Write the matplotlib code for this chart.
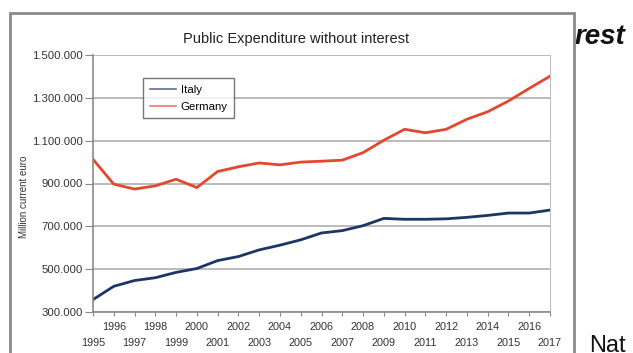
import matplotlib.pyplot as plt
from matplotlib.patches import Rectangle
from matplotlib.ticker import FuncFormatter, FixedLocator

years = list(range(1995, 2018))
italy = [358000, 420000, 447000, 460000, 485000, 503000, 540000, 559000,
         590000, 612000, 637000, 669000, 680000, 703000, 737000, 733000,
         733000, 735000, 742000, 751000, 762000, 762000, 776000]
germany = [1013000, 897000, 874000, 889000, 920000, 881000, 956000, 978000,
           996000, 987000, 1000000, 1004000, 1009000, 1044000, 1102000, 1153000,
           1137000, 1153000, 1200000, 1235000, 1285000, 1344000, 1401000]

W, H = 633, 353
plt.rcParams['font.family'] = ['Liberation Sans', 'DejaVu Sans']
fig = plt.figure(figsize=(W / 100, H / 100), dpi=100)

# slide text partly hidden behind the chart box
fig.text(575 / W, 1 - 37 / H, "rest", fontsize=20, fontweight="bold",
         fontstyle="italic", va="center", ha="left", color="#111111")
fig.text(589 / W, 1 - 335 / H, "Nat", fontsize=17, va="top", ha="left",
         color="#111111")

# chart frame
fig.patches.append(Rectangle((10 / W, -0.05), (574 - 10) / W, 1 - 13 / H + 0.05,
                             transform=fig.transFigure, facecolor="white",
                             edgecolor="#8a8a8a", linewidth=2, zorder=4))
fig.text(296 / W, 1 - 39 / H, "Public Expenditure without interest",
         fontsize=10.5, ha="center", va="center", color="#222222", zorder=6)

ax = fig.add_axes([93 / W, 1 - 312 / H, (550 - 93) / W, (312 - 55) / H])
ax.set_zorder(5)
ax.patch.set_alpha(0)

ax.plot(years, italy, color="#1c3566", linewidth=2, label="Italy")
ax.plot(years, germany, color="#e2472f", linewidth=2, label="Germany")

ax.set_xlim(1995, 2017)
ax.set_ylim(300000, 1500000)
ax.set_yticks(range(300000, 1500001, 200000))
ax.yaxis.set_major_formatter(FuncFormatter(lambda v, p: f"{int(v):,}".replace(",", ".")))
ax.grid(axis="y", color="#b5b5b5", linewidth=1.3)
ax.set_axisbelow(True)

# even years on the upper row, odd years on the lower row
even = [y for y in years if y % 2 == 0]
odd = [y for y in years if y % 2 == 1]
ax.xaxis.set_major_locator(FixedLocator(even))
ax.xaxis.set_minor_locator(FixedLocator(odd))
ax.set_xticklabels([str(y) for y in even])
ax.set_xticklabels([str(y) for y in odd], minor=True)
ax.tick_params(axis="x", which="both", length=3, width=0.8, color="#888888",
               labelsize=7.8, labelcolor="#333333")
ax.tick_params(axis="x", which="major", pad=4)
ax.tick_params(axis="x", which="minor", pad=16)
ax.tick_params(axis="y", length=6, width=0.8, color="#888888", labelsize=8.2,
               pad=1.5, labelcolor="#333333")

for s in ["left", "bottom"]:
    ax.spines[s].set_color("#8a8a8a")
    ax.spines[s].set_linewidth(1.2)
ax.spines["right"].set_color("#c0c0c0")
ax.spines["top"].set_visible(False)

ax.set_ylabel("Million current euro", fontsize=7, color="#333333")
ax.yaxis.set_label_coords(-0.14, 0.45)

leg = ax.legend(loc="upper left", bbox_to_anchor=((143 - 93) / (550 - 93), 1 - (78 - 55) / (312 - 55)),
                fontsize=8.2, frameon=True, fancybox=False, handlelength=2.3,
                borderpad=0.6, labelspacing=0.6, handletextpad=0.4,
                borderaxespad=0)
leg.get_frame().set_edgecolor("#555555")
leg.get_frame().set_linewidth(1)
for line in leg.get_lines():
    line.set_linewidth(1.2)
    line.set_alpha(0.7)

fig.savefig("out.png", dpi=100)
